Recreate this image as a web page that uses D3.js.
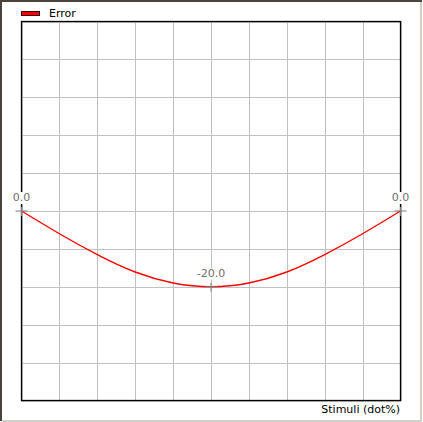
<html lang="en">
<head>
<meta charset="utf-8">
<style type="text/css">
    body { margin: 0; background: #fff; }
    svg text { font-family: "DejaVu Sans", sans-serif; font-size: 11px; }
    .grid line { stroke: #c0c0c0; stroke-width: 1px; shape-rendering: crispEdges; }
</style>
</head>
<body>
<svg width="423" height="422"></svg>
<script src="https://cdnjs.cloudflare.com/ajax/libs/d3/7.8.5/d3.min.js"></script>
<script type="text/javascript">
    // stimuli (dot%) and error values
    var stimuli = [0, 10, 20, 30, 40, 50, 60, 70, 80, 90, 100];
    var errorValues = [0, -6.0, -11.5, -16.1, -19.0, -20, -19.0, -16.1, -11.5, -6.0, 0];
    var labelled = [0, 5, 10];   // indices of points that carry a value label
    var seriesName = "Error";
    var xTitle = "Stimuli (dot%)";

    var svg = d3.select("svg"),
        width = +svg.attr("width"),
        height = +svg.attr("height");

    var pLeft = 21, pTop = 21, pRight = 400.5, pBottom = 400.5;

    var x = d3.scaleLinear().domain([0, 100]).range([pLeft + 0.5, pRight]);
    var y = d3.scaleLinear().domain([-50, 50]).range([pBottom, pTop + 0.5]);

    // sunken frame
    svg.append("rect").attr("x", 0).attr("y", 0).attr("width", width).attr("height", height).attr("fill", "#fff");
    svg.append("path").attr("d", "M1,421 V1 H422").attr("fill", "none").attr("stroke", "#4a453c").attr("stroke-width", 2);
    svg.append("path").attr("d", "M2,421 H421 V2").attr("fill", "none").attr("stroke", "#d4d0c8").attr("stroke-width", 2);

    // grid
    var grid = svg.append("g").attr("class", "grid");
    grid.selectAll(".vx").data(x.ticks(10)).enter().append("line")
        .attr("x1", function (d) { return Math.round(x(d)) + 0.5; })
        .attr("x2", function (d) { return Math.round(x(d)) + 0.5; })
        .attr("y1", pTop).attr("y2", pBottom);
    grid.selectAll(".hy").data(y.ticks(10)).enter().append("line")
        .attr("y1", function (d) { return Math.round(y(d)) + 0.5; })
        .attr("y2", function (d) { return Math.round(y(d)) + 0.5; })
        .attr("x1", pLeft).attr("x2", pRight);

    // plot border
    svg.append("rect")
        .attr("x", pLeft + 0.5).attr("y", pTop + 0.5)
        .attr("width", pRight - pLeft - 0.5).attr("height", pBottom - pTop - 0.5)
        .attr("fill", "none").attr("stroke", "#000").attr("stroke-width", 1.3);

    // the error curve
    var line = d3.line()
        .x(function (d, i) { return x(stimuli[i]); })
        .y(function (d) { return y(d); })
        .curve(d3.curveNatural);

    svg.append("path")
        .datum(errorValues)
        .attr("d", line)
        .attr("fill", "none")
        .attr("stroke", "#ff0000")
        .attr("stroke-width", 1.4);

    // labelled points: crosshair + value on a white box
    var pts = svg.selectAll(".pt").data(labelled).enter().append("g")
        .attr("transform", function (i) { return "translate(" + x(stimuli[i]) + "," + y(errorValues[i]) + ")"; });
    pts.append("path")
        .attr("d", "M-6,0 H6 M0,-4 V5")
        .attr("stroke", "#808080").attr("stroke-width", 1);
    var lbl = pts.append("text")
        .attr("y", -10)
        .attr("text-anchor", "middle")
        .attr("fill", "#707070")
        .text(function (i) { return errorValues[i].toFixed(1); });
    lbl.each(function () {
        var b = this.getBBox();
        d3.select(this.parentNode).insert("rect", "text")
            .attr("x", b.x - 1).attr("y", b.y + 1)
            .attr("width", b.width + 2).attr("height", b.height - 1)
            .attr("fill", "#fff");
    });

    // legend
    svg.append("rect").attr("x", 21.5).attr("y", 11.5).attr("width", 18).attr("height", 4)
        .attr("fill", "#ff0000").attr("stroke", "#400000").attr("stroke-width", 1);
    svg.append("text").attr("x", 49).attr("y", 17).attr("fill", "#000").text(seriesName);

    // x title
    svg.append("text").attr("x", 400).attr("y", 413).attr("text-anchor", "end")
        .attr("fill", "#000").text(xTitle);
</script>
</body>
</html>
